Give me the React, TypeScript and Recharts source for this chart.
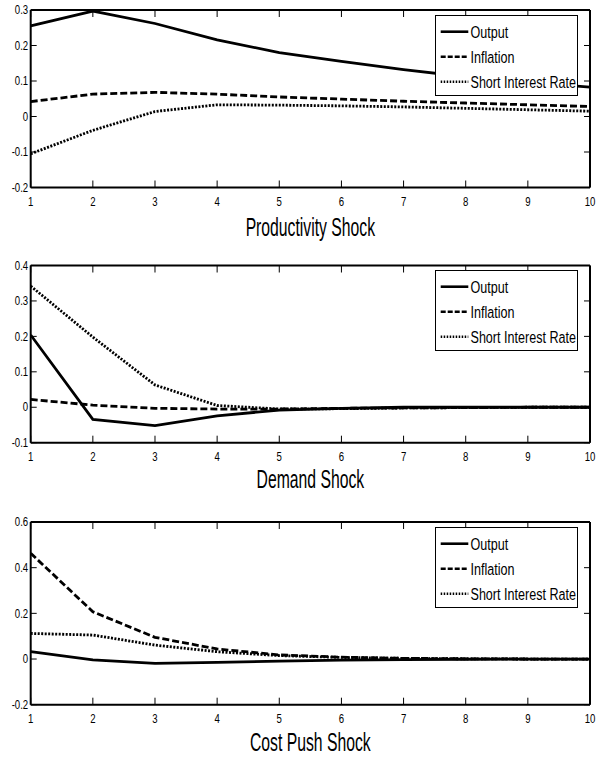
import React from 'react';
import { LineChart, Line, XAxis, YAxis, Legend } from 'recharts';

// ---------- data ----------
const periods = [1, 2, 3, 4, 5, 6, 7, 8, 9, 10];

const prodOutput = [0.255, 0.297, 0.262, 0.216, 0.18, 0.155, 0.132, 0.112, 0.096, 0.083];
const prodInflation = [0.042, 0.063, 0.068, 0.063, 0.055, 0.049, 0.043, 0.038, 0.033, 0.028];
const prodRate = [-0.105, -0.039, 0.014, 0.033, 0.032, 0.03, 0.027, 0.023, 0.019, 0.015];

const demOutput = [0.204, -0.034, -0.052, -0.024, -0.008, -0.003, 0.0, 0.0, 0.0, 0.0];
const demInflation = [0.022, 0.006, -0.003, -0.005, -0.005, -0.003, -0.002, -0.001, 0.0, 0.0];
const demRate = [0.342, 0.198, 0.063, 0.005, -0.005, -0.004, -0.002, -0.001, 0.0, 0.0];

const costOutput = [0.032, -0.004, -0.019, -0.015, -0.009, -0.005, -0.003, -0.001, 0.0, 0.0];
const costInflation = [0.463, 0.207, 0.095, 0.044, 0.018, 0.008, 0.003, 0.001, 0.0, 0.0];
const costRate = [0.112, 0.105, 0.061, 0.032, 0.015, 0.007, 0.003, 0.001, 0.0, 0.0];

const prodTicks = [-0.2, -0.1, 0, 0.1, 0.2, 0.3];
const demTicks = [-0.1, 0, 0.1, 0.2, 0.3, 0.4];
const costTicks = [-0.2, 0, 0.2, 0.4, 0.6];

const titles = ['Productivity Shock', 'Demand Shock', 'Cost Push Shock'];
const seriesNames = ['Output', 'Inflation', 'Short Interest Rate'];

// ---------- styles ----------
const FONT = '"Liberation Sans", Arial, Helvetica, sans-serif';
const seriesStyles = [
  { key: 'output', dash: undefined as string | undefined, legendDash: undefined as string | undefined, width: 2.8 },
  { key: 'inflation', dash: '7 3', legendDash: '5 2', width: 2.8 },
  { key: 'rate', dash: '2 1.5', legendDash: '1.5 1.5', width: 2.8 },
];

const buildRows = (a: number[], b: number[], c: number[]) =>
  periods.map((t, i) => ({ t, output: a[i], inflation: b[i], rate: c[i] }));

const fmt = (v: number) => (v === 0 ? '0' : String(v));

const Y_MARGIN = 2.5;
const X_MARGIN = 10;

const YTick = (props: any) => {
  const { x, y, payload } = props;
  const ax = x + Y_MARGIN;
  return (
    <g>
      <line x1={ax} x2={ax + 6} y1={y} y2={y} stroke="#000" strokeWidth={1} />
      <text
        transform={`translate(${x},${y}) scale(0.8,1)`}
        textAnchor="end"
        dy="0.35em"
        fontSize={12}
        fontFamily={FONT}
        fill="#000"
      >
        {fmt(payload.value)}
      </text>
    </g>
  );
};

const XTick = (props: any) => {
  const { x, y, payload } = props;
  const ay = y - X_MARGIN;
  return (
    <g>
      <line x1={x} x2={x} y1={ay} y2={ay - 7} stroke="#000" strokeWidth={1} />
      <text
        transform={`translate(${x},${y}) scale(0.8,1)`}
        textAnchor="middle"
        dy="0.71em"
        fontSize={12}
        fontFamily={FONT}
        fill="#000"
      >
        {payload.value}
      </text>
    </g>
  );
};

// inward tick marks for the mirrored top / right box sides
const TopTick = (props: any) => {
  const { x, y } = props;
  return <line x1={x} x2={x} y1={y} y2={y + 7} stroke="#000" strokeWidth={1} />;
};
const RightTick = (props: any) => {
  const { x, y } = props;
  return <line x1={x} x2={x - 6} y1={y} y2={y} stroke="#000" strokeWidth={1} />;
};

const renderLegend = () => (
  <div
    style={{
      width: 143,
      height: 81,
      boxSizing: 'border-box',
      border: '1px solid #000',
      background: '#fff',
    }}
  >
    <svg width={141} height={79} style={{ display: 'block' }}>
      {seriesStyles.map((s, i) => {
        const cy = 15.7 + i * 25;
        return (
          <g key={s.key}>
            <line x1={4.7} x2={32.3} y1={cy} y2={cy} stroke="#000" strokeWidth={2.6} strokeDasharray={s.legendDash} />
            <text
              transform={`translate(34.5,${cy + 6}) scale(0.74,1)`}
              fontSize={17}
              fontFamily={FONT}
              fill="#000"
            >
              {seriesNames[i]}
            </text>
          </g>
        );
      })}
    </svg>
  </div>
);

type PanelProps = {
  top: number;
  height: number;
  margin: { top: number; right: number; bottom: number; left: number };
  rows: any[];
  domain: [number, number];
  ticks: number[];
  title: string;
  titleOffset: number;
  legendTop: number;
};

const axisLineStyle = { stroke: '#000', strokeWidth: 2 };

function Panel({ top, height, margin, rows, domain, ticks, title, titleOffset, legendTop }: PanelProps) {
  const titleLabel = (p: any) => {
    const vb = p.viewBox || {};
    const cx = vb.x + vb.width / 2;
    const by = vb.y + titleOffset;
    return (
      <text
        transform={`translate(${cx},${by}) scale(0.63,1)`}
        textAnchor="middle"
        fontSize={25}
        fontFamily={FONT}
        fill="#000"
      >
        {title}
      </text>
    );
  };
  return (
    <div style={{ position: 'absolute', left: 0, top, width: 597, height }}>
      <LineChart width={597} height={height} data={rows} margin={margin}>
        <XAxis
          xAxisId="top"
          orientation="top"
          mirror
          type="number"
          dataKey="t"
          domain={[1, 10]}
          ticks={periods}
          allowDataOverflow
          interval={0}
          tick={<TopTick />}
          tickSize={0}
          tickMargin={0}
          height={10}
          stroke="#000"
          axisLine={axisLineStyle}
          tickLine={false}
        />
        <XAxis
          xAxisId="b"
          orientation="bottom"
          type="number"
          dataKey="t"
          domain={[1, 10]}
          ticks={periods}
          allowDataOverflow
          interval={0}
          tickSize={0}
          tickMargin={X_MARGIN}
          height={30}
          stroke="#000"
          axisLine={axisLineStyle}
          tickLine={false}
          tick={<XTick />}
          label={titleLabel}
        />
        <YAxis
          yAxisId="l"
          orientation="left"
          type="number"
          domain={domain}
          ticks={ticks}
          allowDataOverflow
          interval={0}
          width={30.7}
          tickSize={0}
          tickMargin={Y_MARGIN}
          stroke="#000"
          axisLine={axisLineStyle}
          tickLine={false}
          tick={<YTick />}
        />
        <YAxis
          yAxisId="r"
          orientation="right"
          mirror
          type="number"
          domain={domain}
          ticks={ticks}
          allowDataOverflow
          interval={0}
          width={10}
          tick={<RightTick />}
          tickSize={0}
          tickMargin={0}
          stroke="#000"
          axisLine={axisLineStyle}
          tickLine={false}
        />
        {seriesStyles.map((s, i) => (
          <Line
            key={s.key}
            xAxisId="b"
            yAxisId="l"
            type="linear"
            dataKey={s.key}
            name={seriesNames[i]}
            stroke="#000"
            strokeWidth={s.width}
            strokeDasharray={s.dash}
            dot={false}
            activeDot={false}
            isAnimationActive={false}
          />
        ))}
        <Legend
          layout="vertical"
          align="center"
          verticalAlign="middle"
          content={renderLegend}
          wrapperStyle={{ left: 435, top: legendTop, width: 143, height: 81 }}
        />
      </LineChart>
    </div>
  );
}

export default function App() {
  return (
    <div
      style={{
        position: 'absolute',
        left: 0,
        top: 0,
        width: 597,
        height: 761,
        background: '#fff',
        overflow: 'hidden',
      }}
    >
      <Panel
        top={0}
        height={250}
        margin={{ top: 10, right: 7, bottom: 32.5, left: 0 }}
        rows={buildRows(prodOutput, prodInflation, prodRate)}
        domain={[-0.2, 0.3]}
        ticks={prodTicks}
        title={titles[0]}
        titleOffset={48.5}
        legendTop={15}
      />
      <Panel
        top={250}
        height={250}
        margin={{ top: 15.5, right: 7, bottom: 27.3, left: 0 }}
        rows={buildRows(demOutput, demInflation, demRate)}
        domain={[-0.1, 0.4]}
        ticks={demTicks}
        title={titles[1]}
        titleOffset={45.3}
        legendTop={20}
      />
      <Panel
        top={500}
        height={261}
        margin={{ top: 22, right: 7, bottom: 26.3, left: 0 }}
        rows={buildRows(costOutput, costInflation, costRate)}
        domain={[-0.2, 0.6]}
        ticks={costTicks}
        title={titles[2]}
        titleOffset={46.5}
        legendTop={26.7}
      />
    </div>
  );
}
